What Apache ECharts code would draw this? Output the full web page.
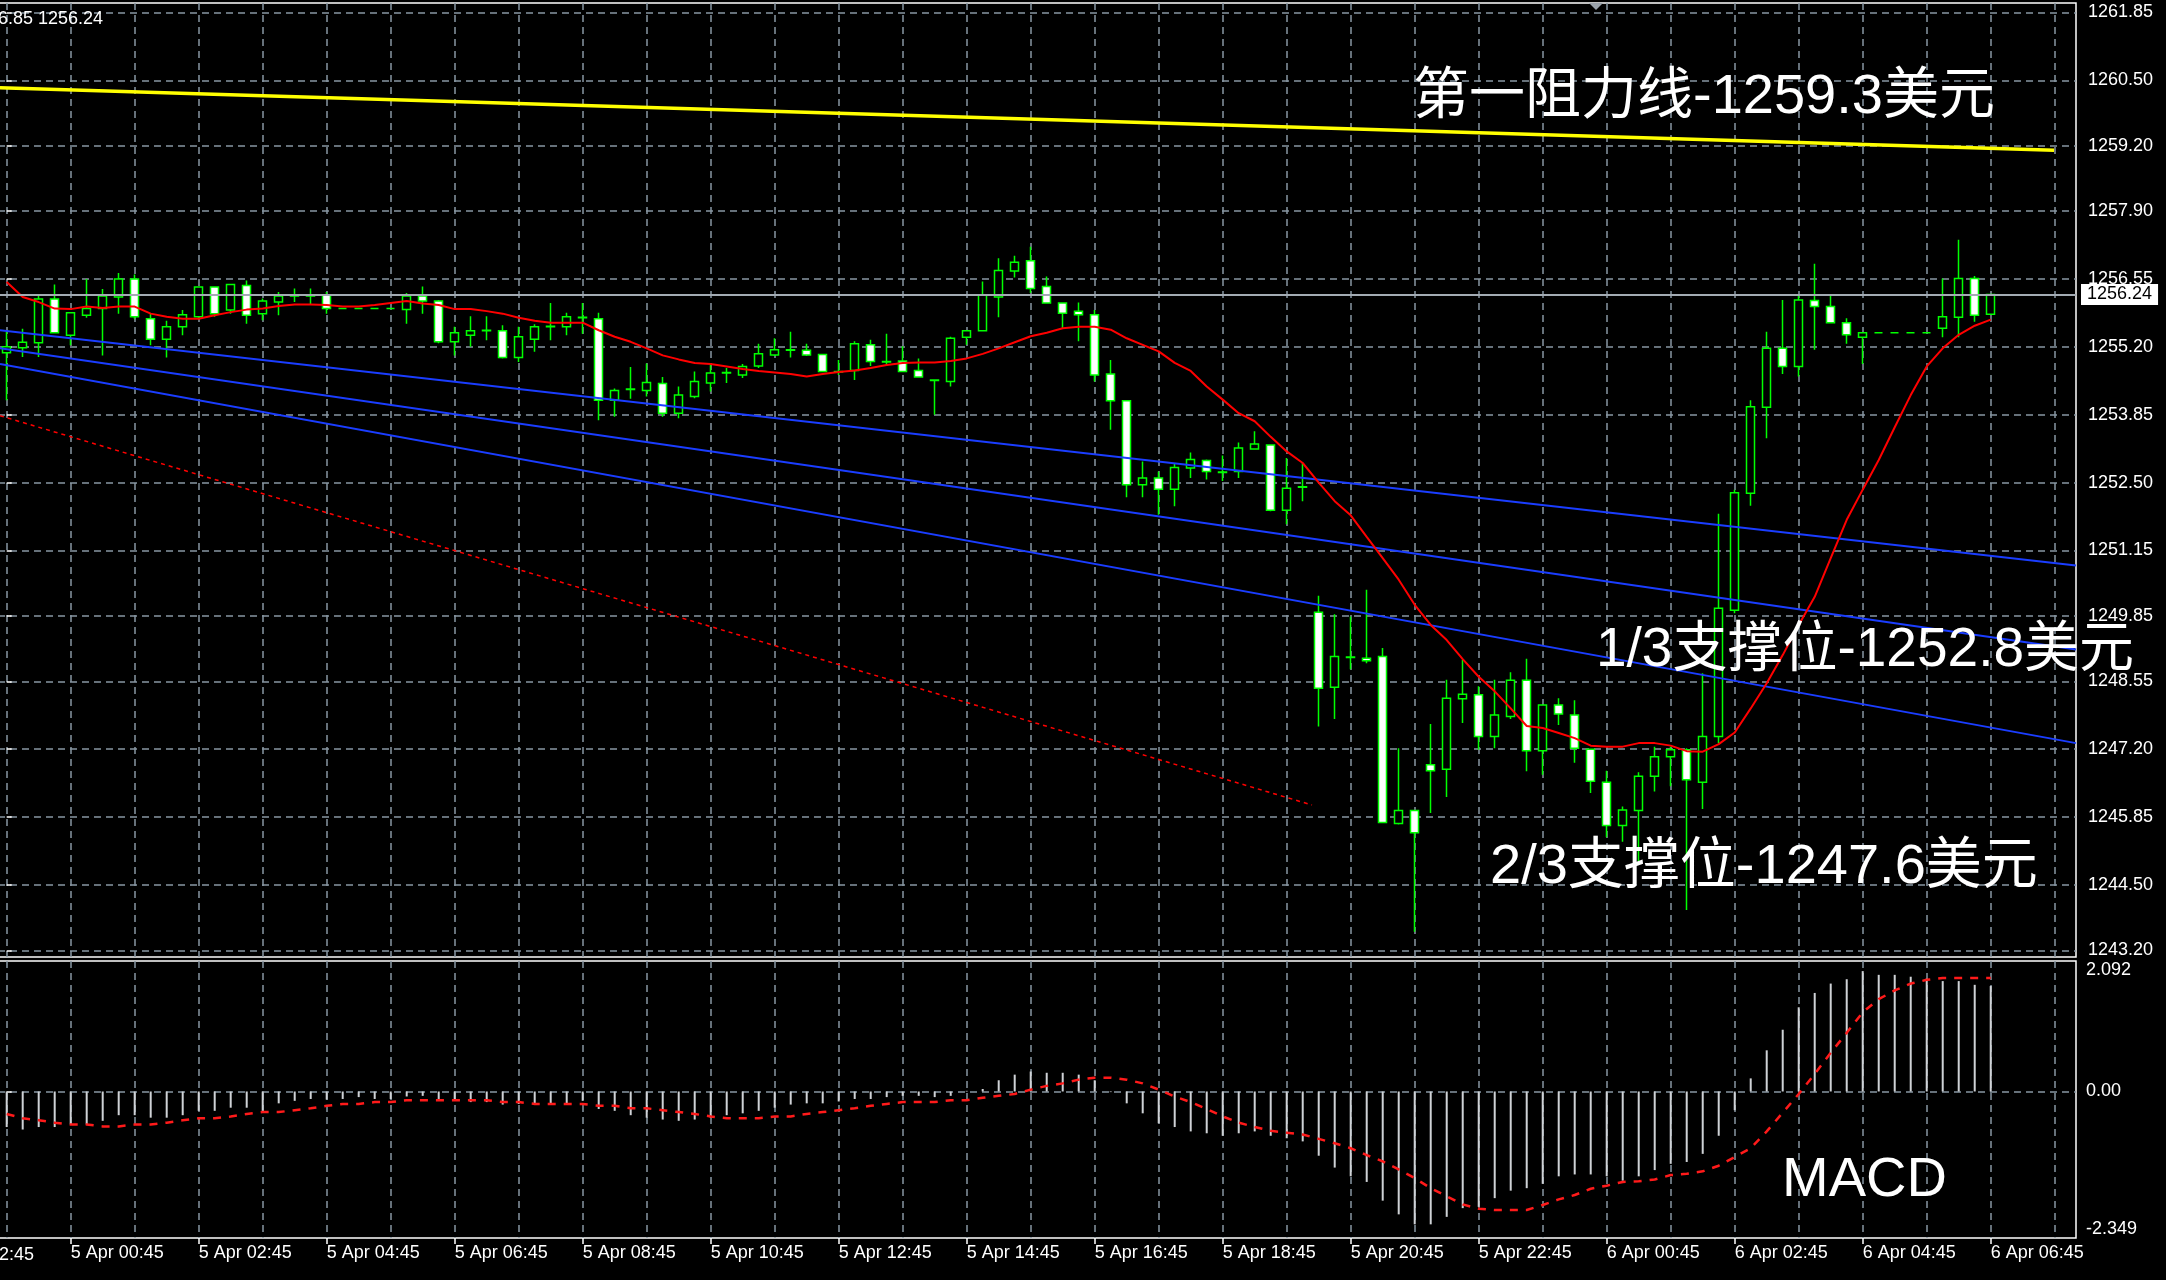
<!DOCTYPE html>
<html><head><meta charset="utf-8">
<script src="https://cdn.jsdelivr.net/npm/echarts@6/dist/echarts.min.js"></script>
<style>html,body{margin:0;padding:0;background:#000;overflow:hidden}#c{width:2166px;height:1280px}</style>
</head><body><div id="c"></div>
<script>
// ---- DATA (15-minute candles, index 0 = 4 Apr 23:45) ----
const opens = [1255.08,1255.18,1255.28,1256.15,1255.43,1255.83,1255.96,1256.19,1256.55,1255.76,1255.35,1255.60,1255.80,1256.39,1255.93,1256.42,1255.86,1256.09,1256.21,1256.22,1256.23,1255.96,1255.96,1255.96,1255.96,1255.94,1256.21,1256.11,1255.30,1255.43,1255.52,1255.52,1254.99,1255.35,1255.60,1255.60,1255.78,1255.76,1254.14,1254.35,1254.33,1254.47,1253.88,1254.21,1254.48,1254.68,1254.64,1254.82,1255.04,1255.13,1255.13,1255.05,1254.71,1254.73,1255.24,1254.91,1254.92,1254.73,1254.54,1254.51,1255.39,1255.52,1256.19,1256.71,1256.91,1256.40,1256.07,1255.91,1255.84,1254.66,1254.13,1252.46,1252.59,1252.37,1252.79,1252.94,1252.70,1252.72,1253.17,1253.25,1251.95,1252.41,1249.92,1248.43,1249.02,1249.01,1249.04,1245.72,1245.98,1246.89,1246.80,1248.20,1248.28,1247.45,1247.85,1248.57,1247.17,1248.08,1247.88,1247.20,1246.54,1245.68,1245.98,1246.66,1247.05,1247.19,1246.54,1247.45,1249.96,1252.29,1254.00,1255.17,1254.81,1256.12,1256.00,1255.68,1255.39,1255.48,1255.48,1255.48,1255.48,1255.57,1255.79,1256.56,1255.85];
const highs = [1255.50,1255.56,1256.21,1256.44,1255.88,1256.55,1256.35,1256.67,1256.64,1255.86,1255.72,1255.93,1256.39,1256.40,1256.44,1256.52,1256.16,1256.29,1256.36,1256.36,1256.29,1255.96,1255.96,1255.96,1255.96,1256.27,1256.40,1256.13,1255.60,1255.81,1255.81,1255.63,1255.60,1255.65,1256.07,1255.88,1256.07,1255.88,1254.37,1254.80,1254.87,1254.60,1254.41,1254.71,1254.84,1254.78,1254.86,1255.26,1255.37,1255.50,1255.26,1255.06,1254.94,1255.31,1255.34,1255.46,1255.21,1254.97,1254.55,1255.40,1255.52,1256.50,1256.96,1257.01,1257.19,1256.60,1256.08,1256.08,1255.93,1254.94,1254.14,1252.92,1252.72,1252.89,1253.10,1252.96,1253.04,1253.30,1253.52,1253.26,1252.99,1252.89,1250.25,1249.88,1249.84,1250.37,1249.21,1247.22,1245.99,1247.70,1248.58,1248.98,1248.45,1248.58,1248.73,1249.00,1248.08,1248.21,1248.17,1247.21,1246.77,1246.06,1246.74,1247.25,1247.25,1247.22,1248.71,1251.88,1252.36,1254.14,1255.50,1256.13,1256.21,1256.85,1256.23,1255.77,1255.48,1255.48,1255.48,1255.48,1255.48,1256.56,1257.33,1256.61,1256.25];
const lows = [1254.14,1255.00,1255.00,1255.48,1255.23,1255.78,1255.03,1255.86,1255.76,1255.23,1254.99,1255.43,1255.77,1255.80,1255.86,1255.66,1255.73,1255.83,1256.09,1256.05,1255.86,1255.96,1255.96,1255.96,1255.96,1255.66,1255.86,1255.27,1255.03,1255.20,1255.33,1254.97,1254.90,1255.10,1255.33,1255.43,1255.46,1253.74,1253.81,1254.17,1254.21,1253.81,1253.78,1254.18,1254.31,1254.48,1254.58,1254.78,1255.02,1254.99,1255.02,1254.71,1254.64,1254.54,1254.82,1254.82,1254.70,1254.59,1253.85,1254.41,1255.24,1255.51,1255.79,1256.58,1256.27,1256.06,1255.57,1255.31,1254.51,1253.55,1252.21,1252.21,1251.86,1252.03,1252.59,1252.56,1252.53,1252.59,1253.16,1251.93,1251.67,1252.13,1247.65,1247.80,1248.79,1248.91,1245.74,1245.70,1243.57,1245.93,1246.25,1247.72,1247.19,1247.22,1247.80,1246.76,1246.69,1247.68,1246.93,1246.33,1245.45,1245.36,1244.97,1246.36,1246.46,1244.00,1246.01,1247.32,1249.90,1252.04,1253.38,1254.66,1254.61,1255.14,1255.68,1255.26,1254.86,1255.48,1255.48,1255.48,1255.48,1255.39,1255.39,1255.70,1255.85];
const closes = [1255.20,1255.29,1256.15,1255.48,1255.88,1255.96,1256.21,1256.55,1255.80,1255.35,1255.60,1255.84,1256.39,1255.86,1256.44,1255.83,1256.11,1256.21,1256.22,1256.21,1255.96,1255.96,1255.96,1255.96,1255.96,1256.21,1256.11,1255.30,1255.48,1255.52,1255.53,1254.99,1255.40,1255.60,1255.61,1255.80,1255.79,1254.14,1254.33,1254.36,1254.49,1253.88,1254.24,1254.51,1254.68,1254.69,1254.81,1255.06,1255.14,1255.14,1255.04,1254.71,1254.70,1255.26,1254.91,1254.90,1254.71,1254.60,1254.53,1255.37,1255.52,1256.23,1256.72,1256.88,1256.36,1256.07,1255.87,1255.84,1254.64,1254.13,1252.46,1252.59,1252.37,1252.80,1252.96,1252.72,1252.71,1253.19,1253.27,1251.95,1252.39,1252.42,1248.41,1249.04,1249.03,1248.96,1245.74,1245.98,1245.54,1246.77,1248.21,1248.29,1247.45,1247.88,1248.57,1247.17,1248.08,1247.90,1247.22,1246.56,1245.68,1245.99,1246.66,1247.05,1247.19,1246.59,1247.45,1250.00,1252.30,1254.01,1255.17,1254.81,1256.13,1256.00,1255.68,1255.44,1255.48,1255.48,1255.48,1255.48,1255.48,1255.80,1256.56,1255.83,1256.24];
const maLine = [1256.49,1256.19,1256.09,1255.96,1255.95,1256.00,1255.97,1256.00,1256.00,1255.86,1255.80,1255.76,1255.76,1255.83,1255.89,1255.94,1255.96,1256.01,1256.04,1256.04,1256.03,1256.00,1256.00,1256.03,1256.07,1256.11,1256.06,1256.03,1255.95,1255.95,1255.91,1255.86,1255.78,1255.72,1255.68,1255.68,1255.68,1255.53,1255.40,1255.30,1255.17,1255.03,1254.95,1254.88,1254.86,1254.81,1254.76,1254.72,1254.69,1254.66,1254.61,1254.66,1254.70,1254.73,1254.78,1254.84,1254.88,1254.89,1254.89,1254.92,1254.97,1255.06,1255.17,1255.29,1255.41,1255.48,1255.57,1255.60,1255.60,1255.54,1255.37,1255.24,1255.11,1254.88,1254.72,1254.41,1254.15,1253.88,1253.72,1253.41,1253.12,1252.89,1252.50,1252.13,1251.85,1251.42,1251.00,1250.57,1250.07,1249.67,1249.37,1248.99,1248.64,1248.35,1248.01,1247.66,1247.62,1247.52,1247.42,1247.27,1247.25,1247.25,1247.32,1247.32,1247.27,1247.16,1247.15,1247.30,1247.53,1248.01,1248.51,1249.07,1249.67,1250.23,1251.00,1251.76,1252.36,1252.95,1253.60,1254.24,1254.81,1255.17,1255.44,1255.62,1255.74];
const macdHist = [-0.57,-0.61,-0.57,-0.57,-0.53,-0.53,-0.47,-0.38,-0.38,-0.42,-0.42,-0.38,-0.31,-0.31,-0.26,-0.26,-0.31,-0.19,-0.15,-0.12,-0.13,-0.12,-0.09,-0.12,-0.12,-0.08,-0.07,-0.12,-0.15,-0.17,-0.17,-0.21,-0.20,-0.19,-0.19,-0.19,-0.15,-0.28,-0.31,-0.38,-0.42,-0.45,-0.47,-0.45,-0.42,-0.38,-0.35,-0.31,-0.26,-0.21,-0.19,-0.19,-0.16,-0.12,-0.12,-0.09,-0.07,-0.07,-0.09,-0.07,0.01,0.04,0.18,0.27,0.32,0.30,0.30,0.27,0.18,-0.01,-0.19,-0.35,-0.51,-0.57,-0.64,-0.67,-0.71,-0.67,-0.64,-0.71,-0.75,-0.80,-1.03,-1.22,-1.36,-1.45,-1.75,-1.97,-2.13,-2.13,-2.01,-1.87,-1.85,-1.71,-1.59,-1.55,-1.48,-1.36,-1.33,-1.33,-1.36,-1.43,-1.36,-1.26,-1.16,-1.13,-1.00,-0.71,-0.30,0.21,0.66,0.99,1.35,1.58,1.73,1.80,1.93,1.87,1.87,1.84,1.81,1.77,1.77,1.71,1.69];
const macdSignal = [-0.36,-0.43,-0.46,-0.50,-0.53,-0.53,-0.56,-0.56,-0.53,-0.53,-0.50,-0.46,-0.43,-0.43,-0.40,-0.36,-0.33,-0.33,-0.30,-0.27,-0.23,-0.20,-0.20,-0.17,-0.17,-0.14,-0.14,-0.14,-0.14,-0.14,-0.14,-0.17,-0.17,-0.20,-0.20,-0.20,-0.20,-0.23,-0.23,-0.27,-0.27,-0.30,-0.33,-0.36,-0.40,-0.43,-0.43,-0.43,-0.40,-0.40,-0.36,-0.33,-0.30,-0.27,-0.23,-0.20,-0.17,-0.17,-0.17,-0.14,-0.14,-0.10,-0.07,-0.04,0.03,0.09,0.13,0.19,0.22,0.22,0.19,0.13,0.03,-0.08,-0.17,-0.28,-0.40,-0.50,-0.57,-0.63,-0.66,-0.69,-0.76,-0.83,-0.91,-1.02,-1.12,-1.25,-1.39,-1.55,-1.68,-1.81,-1.88,-1.90,-1.90,-1.90,-1.82,-1.73,-1.66,-1.56,-1.51,-1.45,-1.44,-1.41,-1.34,-1.32,-1.28,-1.19,-1.05,-0.91,-0.64,-0.34,-0.04,0.28,0.62,0.94,1.27,1.48,1.62,1.73,1.79,1.82,1.82,1.82,1.82];
// trend lines: [candle index, price] end points
const yellowLine = [[-0.42,1260.35],[127.96,1259.11]];
const blueLine1 = [[-0.42,1255.53],[129.33,1250.85]];
const blueLine2 = [[-0.42,1255.17],[129.33,1249.18]];
const blueLine3 = [[-0.42,1254.86],[129.33,1247.32]];
const redDotLine = [[-0.42,1253.83],[81.58,1246.09]];
const fibLabels = [[80.8,1252.95,'61.8'],[80.8,1251.72,'50.0'],[80.8,1250.49,'38.2']];
const lastPrice = 1256.24;
// axis ticks
const priceTicks = [1243.20,1244.50,1245.85,1247.20,1248.55,1249.85,1251.15,1252.50,1253.85,1255.20,1256.55,1257.90,1259.20,1260.50,1261.85];
const macdTicks = [-2.349,0,2.092];
const macdTickText = ['-2.349','0.00','2.092'];
const gridIdx = [0,4,8,12,16,20,24,28,32,36,40,44,48,52,56,60,64,68,72,76,80,84,88,92,96,100,104,108,112,116,120,124,128];
const timeLabelIdx = [-4,4,12,20,28,36,44,52,60,68,76,84,92,100,108,116,124];
const timeLabelText = ['4 Apr 22:45','5 Apr 00:45','5 Apr 02:45','5 Apr 04:45','5 Apr 06:45','5 Apr 08:45','5 Apr 10:45','5 Apr 12:45','5 Apr 14:45','5 Apr 16:45','5 Apr 18:45','5 Apr 20:45','5 Apr 22:45','6 Apr 00:45','6 Apr 02:45','6 Apr 04:45','6 Apr 06:45'];
const annotations = ['第一阻力线-1259.3美元','1/3支撑位-1252.8美元','2/3支撑位-1247.6美元','MACD'];
const headerText = '6.85 1256.24';

// ---- CHART ----
const chart = echarts.init(document.getElementById('c'), null, {renderer:'canvas'});
const X_MIN = -0.54375, X_MAX = 129.33;
const gridCol = '#8896a3';
const FONT = 'Liberation Sans, Arial, sans-serif';
const splitStyle = {show:true, lineStyle:{color:gridCol, type:[7,5], width:1.5}};
const candleData = opens.map((o,i)=>[i,o,closes[i],lows[i],highs[i]]);
function nearestText(v, arr, txt){let b=0;for(let k=1;k<arr.length;k++){if(Math.abs(arr[k]-v)<Math.abs(arr[b]-v))b=k;}return txt[b];}
function lineSeries(data,color,width,type,z){return {type:'line',xAxisIndex:0,yAxisIndex:0,data:data,showSymbol:false,symbol:'none',silent:true,z:z||3,lineStyle:{color:color,width:width,type:type||'solid'}};}
const option = {
  backgroundColor:'#000',
  animation:false,
  grid:[
    {left:-2,right:90,top:3,height:954,show:true,borderColor:'#ffffff',borderWidth:1.5,backgroundColor:'transparent',outerBoundsMode:'none',containLabel:false},
    {left:-2,right:90,top:961,height:277,show:true,borderColor:'#ffffff',borderWidth:1.5,backgroundColor:'transparent',outerBoundsMode:'none',containLabel:false}
  ],
  xAxis:[
    {gridIndex:0,type:'value',min:X_MIN,max:X_MAX,axisLine:{show:false},axisTick:{show:false,customValues:gridIdx},axisLabel:{show:false},splitLine:splitStyle},
    {gridIndex:1,type:'value',min:X_MIN,max:X_MAX,position:'top',axisLine:{show:false},axisTick:{show:false,customValues:gridIdx},axisLabel:{show:false},splitLine:splitStyle},
    {gridIndex:1,type:'value',min:X_MIN,max:X_MAX,position:'bottom',
      axisLine:{show:false},
      axisTick:{show:true,customValues:timeLabelIdx,length:6,lineStyle:{color:'#fff',width:1.5}},
      axisLabel:{customValues:timeLabelIdx,formatter:v=>nearestText(v,timeLabelIdx,timeLabelText),align:'left',color:'#fff',fontFamily:FONT,fontSize:18,margin:6},
      splitLine:{show:false}}
  ],
  yAxis:[
    {gridIndex:0,type:'value',position:'right',min:1243.067,max:1262.037,
      axisLine:{show:false},
      axisTick:{show:true,customValues:priceTicks,length:5,lineStyle:{color:'#fff',width:1.5}},
      axisLabel:{customValues:priceTicks,formatter:v=>v.toFixed(2),color:'#fff',fontFamily:FONT,fontSize:18,margin:12},
      splitLine:splitStyle},
    {gridIndex:1,type:'value',position:'right',min:-2.349,max:2.092,
      axisLine:{show:false},
      axisTick:{show:true,customValues:[0],length:5,lineStyle:{color:'#fff',width:1.5}},
      axisLabel:{customValues:macdTicks,formatter:v=>nearestText(v,macdTicks,macdTickText),color:'#fff',fontFamily:FONT,fontSize:18,margin:10,verticalAlignMinLabel:'bottom',verticalAlignMaxLabel:'top',showMinLabel:true,showMaxLabel:true},
      splitLine:splitStyle}
  ],
  series:[
    {type:'candlestick',xAxisIndex:0,yAxisIndex:0,data:candleData,encode:{x:0,y:[1,2,3,4]},barWidth:9,silent:true,z:2,
      itemStyle:{color:'#000000',color0:'#ffffff',borderColor:'#00ff00',borderColor0:'#00ff00',borderColorDoji:'#00ff00',borderWidth:1.5},
      markLine:{silent:true,symbol:['none','none'],animation:false,
        lineStyle:{color:'#a3abb3',width:2,type:'solid'},
        label:{show:true,position:'end',distance:5,formatter:()=>lastPrice.toFixed(2),color:'#000',backgroundColor:'#fff',padding:[2,6,1,6],fontFamily:FONT,fontSize:18},
        data:[{yAxis:lastPrice}]}},
    lineSeries(yellowLine,'#ffff00',3.5),
    lineSeries(blueLine1,'#1a3dff',2),
    lineSeries(blueLine2,'#1a3dff',2),
    lineSeries(blueLine3,'#1a3dff',2),
    lineSeries(redDotLine,'#ff0000',1.5,[4,4]),
    lineSeries(maLine.map((v,i)=>[i,v]),'#ff0000',2,'solid',4),
    {type:'scatter',xAxisIndex:0,yAxisIndex:0,data:fibLabels,symbolSize:1,silent:true,z:5,itemStyle:{opacity:0},
      label:{show:true,position:'right',distance:0,formatter:p=>p.value[2],color:'#2a4bff',fontFamily:FONT,fontSize:17}},
    {type:'bar',xAxisIndex:1,yAxisIndex:1,data:macdHist.map((v,i)=>[i,v]),barWidth:2,silent:true,itemStyle:{color:'#cfd2d6'},z:2},
    {type:'line',xAxisIndex:1,yAxisIndex:1,data:macdSignal.map((v,i)=>[i,v]),showSymbol:false,symbol:'none',silent:true,z:3,lineStyle:{color:'#ff1a1a',width:2.5,type:[8,8]}}
  ],
  graphic:[
    {type:'text',x:1413,y:98,z:100,style:{text:annotations[0],fill:'#fff',font:'56px "Liberation Sans","Noto Sans CJK SC",sans-serif',align:'left',verticalAlign:'middle'}},
    {type:'text',x:1596,y:651,z:100,style:{text:annotations[1],fill:'#fff',font:'55px "Liberation Sans","Noto Sans CJK SC",sans-serif',align:'left',verticalAlign:'middle'}},
    {type:'text',x:1490,y:868,z:100,style:{text:annotations[2],fill:'#fff',font:'56px "Liberation Sans","Noto Sans CJK SC",sans-serif',align:'left',verticalAlign:'middle'}},
    {type:'text',x:1782,y:1181,z:100,style:{text:annotations[3],fill:'#fff',font:'56px "Liberation Sans",sans-serif',align:'left',verticalAlign:'middle'}},
    {type:'text',x:-2,y:19,z:100,style:{text:headerText,fill:'#fff',font:'18px "Liberation Sans",sans-serif',align:'left',verticalAlign:'middle'}},
    {type:'text',x:-59,y:1246,z:100,style:{text:timeLabelText[0],fill:'#fff',font:'18px "Liberation Sans",sans-serif',align:'left',verticalAlign:'top'}},
    {type:'polygon',z:100,shape:{points:[[1589,3],[1603,3],[1596,10]]},style:{fill:'#9aa2aa'}}
  ]
};
chart.setOption(option);
</script>
</body></html>
